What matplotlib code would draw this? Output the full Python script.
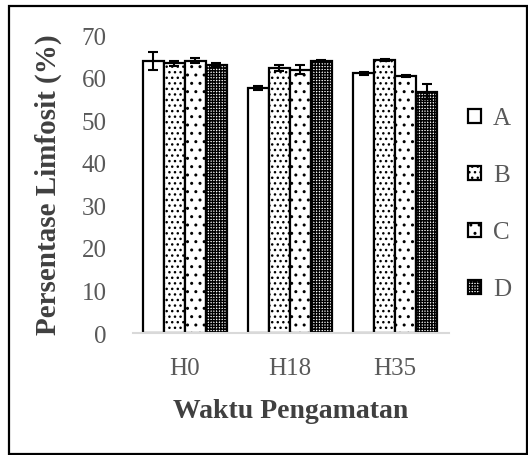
import numpy as np
import matplotlib.pyplot as plt
from matplotlib.patches import Rectangle

plt.rcParams['font.family'] = ['Liberation Serif', 'DejaVu Serif']
plt.rcParams['hatch.linewidth'] = 1.0

# data
waktu = ['H0', 'H18', 'H35']
kelompok = ['A', 'B', 'C', 'D']
nilai_A = [64.0, 57.5, 61.0]
nilai_B = [63.4, 62.2, 64.1]
nilai_C = [64.0, 61.9, 60.4]
nilai_D = [63.0, 64.0, 56.7]
err_A = [2.1, 0.5, 0.4]
err_B = [0.6, 0.7, 0.3]
err_C = [0.6, 1.1, 0.3]
err_D = [0.5, 0.2, 1.8]

series = [nilai_A, nilai_B, nilai_C, nilai_D]
errors = [err_A, err_B, err_C, err_D]
hatches = ['', '...', '..', '++++++']

fig = plt.figure(figsize=(5.28, 4.56), dpi=100)
ax = fig.add_axes([0.252, 0.2675, 0.598, 0.6535])

x = np.arange(len(waktu))
w = 0.2
for i, (vals, errs) in enumerate(zip(series, errors)):
    pos = x + (i - 1.5) * w
    ax.bar(pos, vals, width=w, color='white', edgecolor='black', linewidth=1.6,
           hatch=hatches[i], label=kelompok[i], zorder=2)
    ax.errorbar(pos, vals, yerr=errs, fmt='none', ecolor='black', elinewidth=1.5,
                capsize=3.6, capthick=1.5, zorder=3)

ax.set_xlim(-0.49, 2.51)
ax.set_ylim(0, 70)
ax.set_yticks(range(0, 71, 10))
ax.set_xticks(x)
ax.set_xticklabels(waktu)
for s in ['left', 'top', 'right']:
    ax.spines[s].set_visible(False)
ax.spines['bottom'].set_color('#d9d9d9')
ax.spines['bottom'].set_linewidth(1.5)
ax.tick_params(axis='y', length=0, pad=19, labelsize=18, labelcolor='#595959')
ax.tick_params(axis='x', length=0, pad=17, labelsize=18, labelcolor='#595959')

ax.set_xlabel('Waktu Pengamatan', fontsize=20, fontweight='bold', color='#404040', labelpad=14)
ax.set_ylabel('Persentase Limfosit (%)', fontsize=21, fontweight='bold', color='#404040', labelpad=14)

ax.legend(loc='center left', bbox_to_anchor=(468 / 528, 1 - 205 / 456),
          bbox_transform=fig.transFigure, frameon=False, fontsize=18,
          handlelength=0.5, handleheight=0.5, handletextpad=0.5,
          labelspacing=1.4, borderpad=0, borderaxespad=0, labelcolor='#595959')

# outer frame around the chart
fig.patches.append(Rectangle((8.5 / 528, 1.5 / 456), 518 / 528, 448 / 456,
                             transform=fig.transFigure, fill=False,
                             edgecolor='black', linewidth=1.6))

fig.savefig('out.png', dpi=100)
